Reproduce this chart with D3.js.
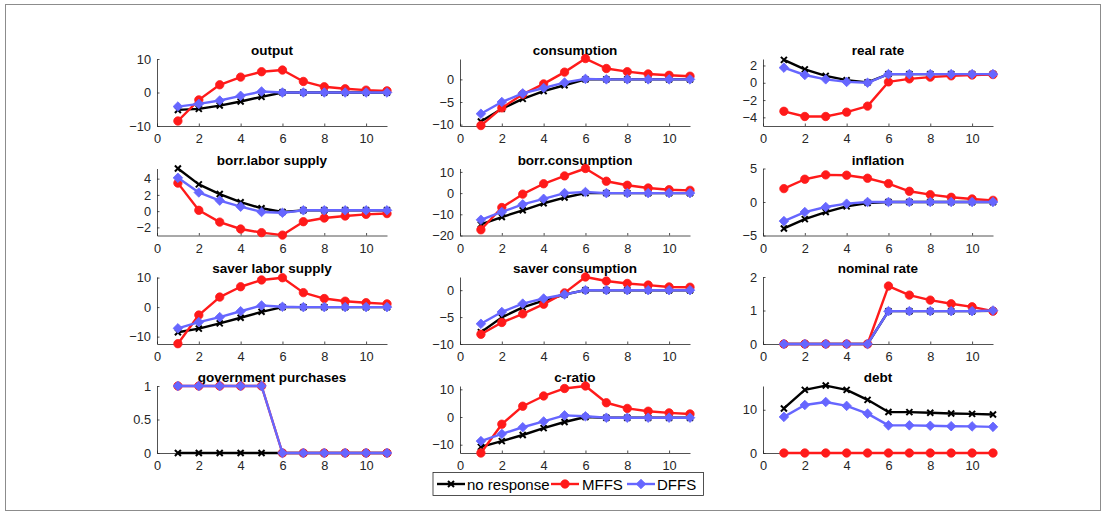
<!DOCTYPE html>
<html>
<head>
<meta charset="utf-8">
<script src="https://cdn.jsdelivr.net/npm/d3@7"></script>
<style>
  html, body { margin: 0; padding: 0; background: #fff; }
  svg { display: block; }
  text { font-family: "Liberation Sans", Arial, Helvetica, sans-serif; }
</style>
</head>
<body>
<svg id="chart" width="1106" height="515"></svg>
<script>
// Impulse responses over 11 periods for three policy regimes.
const periods = [1, 2, 3, 4, 5, 6, 7, 8, 9, 10, 11];
const seriesNames = ["no response", "MFFS", "DFFS"];
const xTicks = [0, 2, 4, 6, 8, 10];

// Each panel: [no response, MFFS, DFFS]
const output = [
  [-5.2, -4.9, -3.9, -2.7, -1.3, 0, 0, 0, 0, 0, 0],
  [-8.5, -2.2, 2.3, 4.6, 6.2, 6.7, 3.3, 1.7, 1.1, 0.7, 0.5],
  [-4.2, -3.4, -2.4, -1.0, 0.3, 0, 0, 0, 0, 0, 0]
];
const consumption = [
  [-9.3, -6.5, -4.3, -2.6, -1.3, 0, 0, 0, 0, 0, 0],
  [-10.2, -6.3, -3.3, -1.0, 1.6, 4.6, 2.4, 1.7, 1.2, 0.9, 0.7],
  [-7.6, -5.0, -3.1, -1.9, -0.7, 0.1, 0, 0, 0, 0, 0]
];
const realRate = [
  [2.65, 1.55, 0.8, 0.3, 0.05, 1.0, 1.0, 1.0, 1.0, 1.0, 1.0],
  [-3.3, -3.9, -3.9, -3.4, -2.7, 0.1, 0.45, 0.65, 0.8, 0.9, 0.95],
  [1.75, 0.9, 0.4, 0.1, 0, 1.0, 1.0, 1.0, 1.0, 1.0, 1.0]
];
const borrLaborSupply = [
  [5.25, 3.3, 2.1, 1.1, 0.35, -0.1, 0.1, 0.1, 0.1, 0.1, 0.1],
  [3.45, 0.1, -1.35, -2.2, -2.65, -2.95, -1.3, -0.85, -0.6, -0.4, -0.3],
  [4.1, 2.3, 1.3, 0.55, -0.1, -0.2, 0.1, 0.1, 0.1, 0.1, 0.1]
];
const borrConsumption = [
  [-14.8, -11.3, -8.1, -4.8, -2.1, 0, 0, 0, 0, 0, 0],
  [-17.3, -6.8, -0.5, 4.4, 8.1, 11.6, 5.6, 3.7, 2.4, 1.6, 1.3],
  [-12.6, -8.9, -5.3, -2.7, 0, 0.5, 0, 0, 0, 0, 0]
];
const inflation = [
  [-3.95, -2.55, -1.5, -0.65, -0.15, 0, 0, 0, 0, 0, 0],
  [2.0, 3.4, 4.05, 4.0, 3.55, 2.75, 1.6, 1.1, 0.7, 0.45, 0.25],
  [-2.85, -1.5, -0.75, -0.25, 0, 0, 0, 0, 0, 0, 0]
];
const saverLaborSupply = [
  [-8.5, -7.3, -5.5, -3.6, -1.6, 0, 0, 0, 0, 0, 0],
  [-12.4, -2.7, 3.4, 6.9, 9.2, 9.95, 4.9, 2.9, 2.0, 1.5, 1.1],
  [-7.2, -5.1, -3.4, -1.4, 0.55, 0.1, 0, 0, 0, 0, 0]
];
const saverConsumption = [
  [-7.8, -5.05, -3.2, -1.95, -0.8, 0, 0, 0, 0, 0, 0],
  [-8.2, -6.0, -4.4, -2.6, -0.5, 2.45, 1.7, 1.25, 0.95, 0.6, 0.55],
  [-6.25, -4.05, -2.5, -1.55, -0.8, 0, 0, 0, 0, 0, 0]
];
const nominalRate = [
  [0, 0, 0, 0, 0, 0.98, 0.98, 0.98, 0.98, 0.98, 0.99],
  [0, 0, 0, 0, 0, 1.73, 1.46, 1.31, 1.2, 1.11, 0.98],
  [0, 0, 0, 0, 0, 0.98, 0.98, 0.98, 0.98, 0.98, 1.0]
];
const governmentPurchases = [
  [0, 0, 0, 0, 0, 0, 0, 0, 0, 0, 0],
  [1, 1, 1, 1, 1, 0, 0, 0, 0, 0, 0],
  [1, 1, 1, 1, 1, 0, 0, 0, 0, 0, 0]
];
const cRatio = [
  [-10.8, -8.7, -6.5, -4.0, -1.8, 0, -0.25, -0.25, -0.25, -0.25, -0.25],
  [-13.0, -2.6, 3.9, 7.6, 10.3, 11.2, 5.15, 3.1, 2.1, 1.5, 1.1],
  [-8.7, -6.1, -3.7, -1.6, 0.6, 0.25, -0.25, -0.25, -0.25, -0.25, -0.25]
];
const debt = [
  [10.3, 14.6, 15.6, 14.6, 12.3, 9.5, 9.45, 9.3, 9.15, 9.05, 8.9],
  [0, 0, 0, 0, 0, 0, 0, 0, 0, 0, 0],
  [8.35, 11.1, 11.8, 10.9, 9.1, 6.4, 6.4, 6.3, 6.2, 6.15, 6.05]
];

const titles = ["output", "consumption", "real rate",
                "borr.labor supply", "borr.consumption", "inflation",
                "saver labor supply", "saver consumption", "nominal rate",
                "government purchases", "c-ratio", "debt"];
const panelData = [output, consumption, realRate,
                   borrLaborSupply, borrConsumption, inflation,
                   saverLaborSupply, saverConsumption, nominalRate,
                   governmentPurchases, cRatio, debt];
const yLimits = [[-10, 10], [-10.3, 4.5], [-5, 2.75],
                 [-3, 5.25], [-20, 11.6], [-5, 5],
                 [-12.5, 10.2], [-10, 2.45], [0, 2],
                 [0, 1], [-13, 11.2], [0, 15.5]];
const yTicks = [[-10, 0, 10], [-10, -5, 0], [-4, -2, 0, 2],
                [-2, 0, 2, 4], [-20, -10, 0, 10], [-5, 0, 5],
                [-10, 0, 10], [-10, -5, 0], [0, 1, 2],
                [0, 0.5, 1], [-10, 0, 10], [0, 10]];

// ---- layout ----
const colLeft = [157, 460, 763];
const rowTop = [59, 168.5, 277, 386];
const plotW = 230, plotH = 67;
const axisColor = "#262626";
const colors = ["#000000", "#ff1a1a", "#6666ff"];

const svg = d3.select("#chart");

// figure frame
svg.append("rect")
  .attr("x", 5.5).attr("y", 4.5)
  .attr("width", 1095).attr("height", 506)
  .attr("fill", "none").attr("stroke", "#8c8c8c").attr("stroke-width", 1);

const x = d3.scaleLinear().domain([0, 11]).range([0, plotW]);

function drawMarker(g, kind, cx, cy, color) {
  if (kind === 0) {
    const s = 3;
    g.append("path")
      .attr("d", `M${cx - s},${cy - s}L${cx + s},${cy + s}M${cx - s},${cy + s}L${cx + s},${cy - s}`)
      .attr("stroke", color).attr("stroke-width", 2).attr("fill", "none");
  } else if (kind === 1) {
    g.append("circle").attr("cx", cx).attr("cy", cy).attr("r", 4.2)
      .attr("fill", color).attr("stroke", color).attr("stroke-width", 0.8);
  } else {
    const s = 4.8;
    g.append("path")
      .attr("d", `M${cx},${cy - s}L${cx + s},${cy}L${cx},${cy + s}L${cx - s},${cy}Z`)
      .attr("fill", color).attr("stroke", color).attr("stroke-width", 0.8);
  }
}

panelData.forEach((series, i) => {
  const col = i % 3, row = Math.floor(i / 3);
  const g = svg.append("g").attr("transform", `translate(${colLeft[col]},${rowTop[row]})`);
  const y = d3.scaleLinear().domain(yLimits[i]).range([plotH, 0]);

  // axes
  const xAxis = d3.axisBottom(x).tickValues(xTicks).tickSizeInner(-2.5).tickSizeOuter(0).tickPadding(8);
  const yAxis = d3.axisLeft(y).tickValues(yTicks[i]).tickSizeInner(-2.5).tickSizeOuter(0).tickPadding(6)
    .tickFormat(d3.format("~g"));

  const gx = g.append("g").attr("transform", `translate(0,${plotH})`).call(xAxis);
  const gy = g.append("g").call(yAxis);
  [gx, gy].forEach(a => {
    a.select(".domain").attr("stroke", axisColor).attr("stroke-width", 0.8);
    a.selectAll(".tick line").attr("stroke", axisColor).attr("stroke-width", 0.8);
    a.selectAll(".tick text").attr("fill", axisColor)
      .style("font-size", "12.8px").style("font-family", '"Liberation Sans", Arial, sans-serif');
  });

  // title
  g.append("text")
    .attr("x", plotW / 2).attr("y", -4)
    .attr("text-anchor", "middle")
    .style("font-size", "13.5px").style("font-weight", "bold")
    .attr("fill", "#000")
    .text(titles[i]);

  const line = d3.line().x((d, k) => x(periods[k])).y(d => y(d));
  series.forEach((vals, s) => {
    g.append("path")
      .datum(vals)
      .attr("d", line)
      .attr("fill", "none")
      .attr("stroke", colors[s])
      .attr("stroke-width", 2.4)
      .attr("stroke-linejoin", "round");
    vals.forEach((v, k) => drawMarker(g, s, x(periods[k]), y(v), colors[s]));
  });
});

// ---- legend ----
const legend = svg.append("g").attr("transform", "translate(433,472.5)");
legend.append("rect")
  .attr("x", 0).attr("y", 0).attr("width", 270.5).attr("height", 23)
  .attr("fill", "#fff").attr("stroke", axisColor).attr("stroke-width", 0.8);
const legendItems = [
  { sx: 4, tx: 34 },
  { sx: 118, tx: 149 },
  { sx: 194, tx: 224 }
];
seriesNames.forEach((name, s) => {
  const it = legendItems[s];
  legend.append("line")
    .attr("x1", it.sx).attr("x2", it.sx + 28)
    .attr("y1", 11.5).attr("y2", 11.5)
    .attr("stroke", colors[s]).attr("stroke-width", 2.4);
  drawMarker(legend, s, it.sx + 14, 11.5, colors[s]);
  legend.append("text")
    .attr("x", it.tx).attr("y", 17)
    .style("font-size", "15px")
    .attr("fill", "#000")
    .text(name);
});
</script>
</body>
</html>
